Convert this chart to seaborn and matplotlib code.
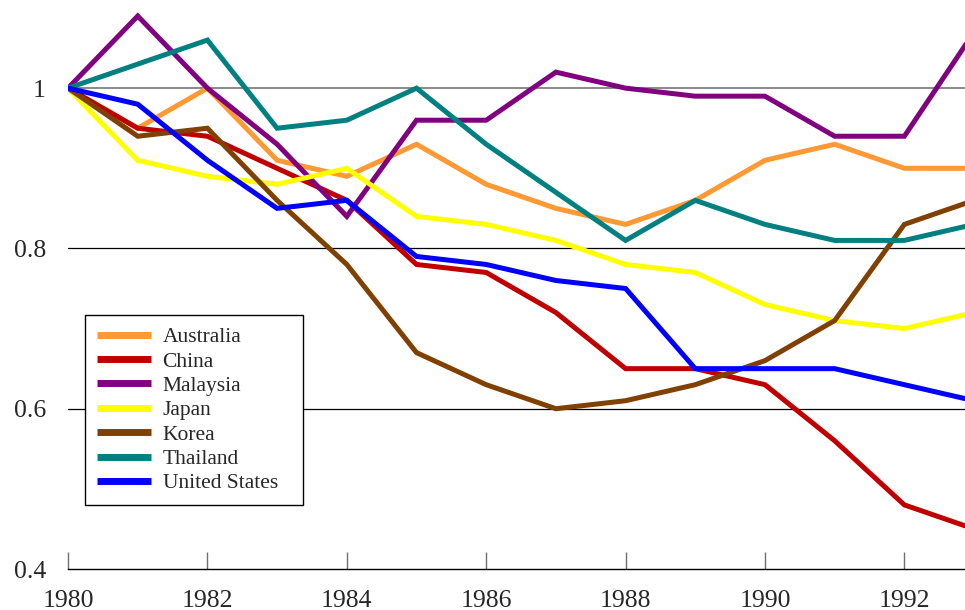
import seaborn as sns
import matplotlib.pyplot as plt
import pandas as pd

sns.set_theme(style='white')
plt.rcParams['font.family'] = ['Liberation Serif', 'DejaVu Serif']

years = list(range(1980, 1994))
australia = [1.0, 0.95, 1.0, 0.91, 0.89, 0.93, 0.88, 0.85, 0.83, 0.86, 0.91, 0.93, 0.90, 0.90]
china = [1.0, 0.95, 0.94, 0.90, 0.86, 0.78, 0.77, 0.72, 0.65, 0.65, 0.63, 0.56, 0.48, 0.45]
malaysia = [1.0, 1.09, 1.0, 0.93, 0.84, 0.96, 0.96, 1.02, 1.0, 0.99, 0.99, 0.94, 0.94, 1.07]
japan = [1.0, 0.91, 0.89, 0.88, 0.90, 0.84, 0.83, 0.81, 0.78, 0.77, 0.73, 0.71, 0.70, 0.72]
korea = [1.0, 0.94, 0.95, 0.86, 0.78, 0.67, 0.63, 0.60, 0.61, 0.63, 0.66, 0.71, 0.83, 0.86]
thailand = [1.0, 1.03, 1.06, 0.95, 0.96, 1.0, 0.93, 0.87, 0.81, 0.86, 0.83, 0.81, 0.81, 0.83]
united_states = [1.0, 0.98, 0.91, 0.85, 0.86, 0.79, 0.78, 0.76, 0.75, 0.65, 0.65, 0.65, 0.63, 0.61]

countries = ['Australia', 'China', 'Malaysia', 'Japan', 'Korea', 'Thailand', 'United States']
colors = ['#ff9933', '#c00000', '#800080', '#ffff00', '#804000', '#008080', '#0000ff']

df = pd.DataFrame({'year': years, 'Australia': australia, 'China': china,
                   'Malaysia': malaysia, 'Japan': japan, 'Korea': korea,
                   'Thailand': thailand, 'United States': united_states})
long = df.melt(id_vars='year', var_name='country', value_name='index')

fig = plt.figure(figsize=(9.65, 6.1), dpi=100)
ax = fig.add_axes([0.0705, 0.0672, 0.9295, 0.9328])

# reference lines
ax.axhline(1.0, color='#808080', lw=1.3, zorder=1)
for v in [0.6, 0.8]:
    ax.axhline(v, color='black', lw=0.9, zorder=1)

sns.lineplot(data=long, x='year', y='index', hue='country', hue_order=countries,
             palette=colors, lw=3.6, ax=ax, zorder=3, solid_joinstyle='miter')

ax.set_xlim(1980, 1992.87)
ax.set_ylim(0.4, 1.11)
ax.set_xticks([1980, 1982, 1984, 1986, 1988, 1990, 1992])
ax.set_yticks([0.4, 0.6, 0.8, 1.0])
ax.set_yticklabels(['0.4', '0.6', '0.8', '1'])
ax.set_xlabel('')
ax.set_ylabel('')
for s in ['top', 'right', 'left']:
    ax.spines[s].set_visible(False)
ax.spines['bottom'].set_color('black')
ax.spines['bottom'].set_linewidth(1.0)
ax.tick_params(axis='x', direction='in', length=12, width=1, color='#707070',
               labelsize=18.5, pad=15, bottom=True)
ax.tick_params(axis='y', length=0, labelsize=18.5, pad=16)

leg = ax.legend(loc='lower left', bbox_to_anchor=(0.019, 0.112, 0.243, 0.334),
                mode='expand', fontsize=15.5,
                frameon=True, fancybox=False, edgecolor='black', framealpha=1,
                handlelength=2.5, handletextpad=0.55, labelspacing=0.2,
                borderpad=0.55, borderaxespad=0)
leg.get_frame().set_linewidth(1.0)
for h in leg.get_lines():
    h.set_linewidth(5)
    h.set_solid_capstyle('butt')

fig.savefig('out.png', dpi=100)
